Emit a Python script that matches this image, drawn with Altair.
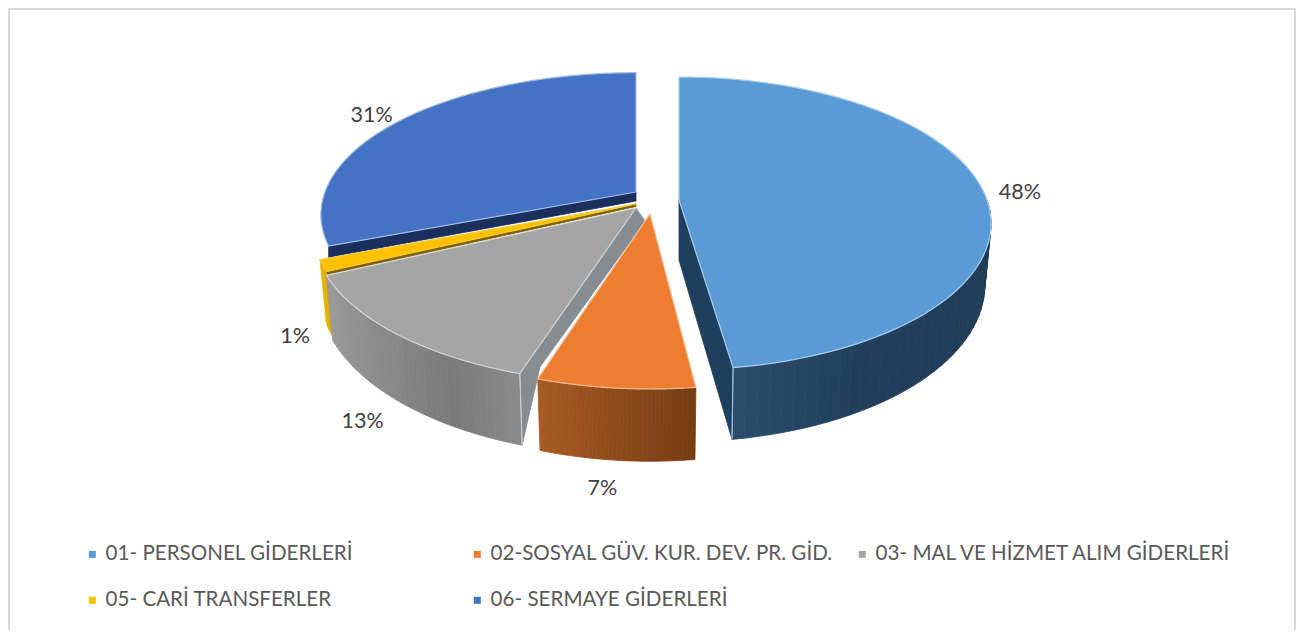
import math
import altair as alt

names = ["01- PERSONEL GİDERLERİ", "02-SOSYAL GÜV. KUR. DEV. PR. GİD.",
         "03- MAL VE HİZMET ALIM GİDERLERİ", "05- CARİ TRANSFERLER", "06- SERMAYE GİDERLERİ"]
values = [48, 7, 13, 1, 31]
colors = ["#5b9bd5", "#ed7d31", "#a5a5a5", "#ffc000", "#4472c4"]
edges = ["#a9cdec", "#f6bd96", "#d4d4d4", "#f0cc40", "#a3bde8"]

# geometry of the tilted, exploded pie
W, H = 1288, 622
A, B, K = 308.0, 142.7, 0.16
DEPTH = 60.0
centres = [(679, 200), (650, 214), (636, 208), (636, 204), (636, 192)]
stretch = [(1.0, 1.0), (1.0, 1.03), (1.035, 1.035), (1.035, 1.035), (1.01, 0.97)]
end_trim = [1.3, 0, 0, -0.8, 0]
label_nudge = [(0, 3), (-9, -5), (-5, -3), (9, 0), (0, 4)]
wall_stops = [
    [(90, "#1f3a55"), (150, "#213f5b"), (172.8, "#2c4d6d")],
    [(172.8, "#743c12"), (198, "#a85a22")],
    [(198, "#8a8a8a"), (210, "#7a7a7a"), (225, "#8a8a8a"), (245, "#9a9a9a")],
    [(244.8, "#d9a800"), (248.4, "#e6b400")],
]
side_colors = ["#1f3f5e", None, "#858c92", "#7f6000", "#1b2f5c"]

ends = [sum(values[:i + 1]) * 3.6 for i in range(len(values))]
starts = [0.0] + ends[:-1]
drawn_ends = [e - t for e, t in zip(ends, end_trim)]


def proj(i, deg, r=1.0, bottom=False):
    t = math.radians(deg)
    X, Y = r * math.sin(t), r * math.cos(t)
    w = 1 + K * Y
    sx, sy = A * X / w * stretch[i][0], -B * Y / w * stretch[i][1]
    if bottom:
        sx, sy = sx * 0.98, sy * 1.07 + DEPTH
    return [centres[i][0] + sx - 8, centres[i][1] + sy - 8]


def lerp_color(stops, deg):
    for (a, ca), (b, cb) in zip(stops, stops[1:]):
        if a <= deg <= b:
            f = (deg - a) / (b - a)
            ch = [round(int(ca[j:j + 2], 16) * (1 - f) + int(cb[j:j + 2], 16) * f) for j in (1, 3, 5)]
            return "#%02x%02x%02x" % tuple(ch)
    return stops[0][1] if deg < stops[0][0] else stops[-1][1]


def feature(ring, fill, stroke, name=""):
    return {"type": "Feature", "geometry": {"type": "Polygon", "coordinates": [ring + [ring[0]]]},
            "properties": {"fill": fill, "stroke": stroke, "name": name}}


def arc(a, b, n=60):
    return [a + (b - a) * j / n for j in range(n + 1)]


def wall_features(i):
    feats = []
    a, b = starts[i], drawn_ends[i]
    c = [centres[i][0] - 8, centres[i][1] - 8]
    if i == 4:  # radial face of the far slice
        p = proj(4, a)
        return [feature([c, p, [p[0], p[1] + 11], [c[0], c[1] + 9]], side_colors[4], side_colors[4])]
    if i == 0:
        a = 90.0
        tp, bt = proj(0, b), proj(0, b, bottom=True)
        feats.append(feature([c, tp, bt, [c[0], c[1] + DEPTH]], side_colors[0], side_colors[0]))
    grid = arc(a, b, 40 if i != 3 else 4)
    for u, v in zip(grid, grid[1:]):
        col = lerp_color(wall_stops[i], (u + v) / 2)
        feats.append(feature([proj(i, u), proj(i, v), proj(i, v, bottom=True), proj(i, u, bottom=True)], col, col))
    if i == 2:
        tp, bt = proj(2, a), proj(2, a, bottom=True)
        inner = [tp[0] + 0.13 * (c[0] - tp[0]) + 5, tp[1] + 0.04 * (c[1] - tp[1])]
        feats.append(feature([c, tp, bt, inner, [c[0] + 9, c[1] + 13]], side_colors[2], side_colors[2]))
    if i == 3:
        tp = proj(3, a)
        feats.append(feature([c, tp, [tp[0] + 1, tp[1] + 3], [c[0], c[1] + 2.5]], side_colors[3], side_colors[3]))
    if i in (0, 2):
        d = b if i == 0 else a
        p, q = proj(i, d), proj(i, d, bottom=True)
        feats.append(feature([p, q], "none", edges[i]))
    return feats


def top_feature(i):
    c = [centres[i][0] - 8, centres[i][1] - 8]
    return feature([c] + [proj(i, d) for d in arc(starts[i], drawn_ends[i], 80)], colors[i], edges[i], names[i])


projection = alt.Projection(type="identity", scale=1, translate=[0, 0]).to_dict()
layers = []

# frame
frame_color = "#d9d9d9"
layers.append(alt.Chart().mark_rule(color=frame_color, strokeWidth=2).encode(x=alt.value(1), y=alt.value(0), y2=alt.value(H)))
layers.append(alt.Chart().mark_rule(color=frame_color, strokeWidth=2).encode(x=alt.value(W - 1), y=alt.value(0), y2=alt.value(H)))
layers.append(alt.Chart().mark_rule(color=frame_color, strokeWidth=2).encode(y=alt.value(1), x=alt.value(0), x2=alt.value(W)))

# painter's order: far slices first
for i in [4, 3, 2, 0, 1]:
    layers.append(
        alt.Chart(alt.Data(values=wall_features(i))).mark_geoshape(strokeWidth=0.8).encode(
            fill=alt.Fill("properties.fill:N", scale=None),
            stroke=alt.Stroke("properties.stroke:N", scale=None),
        ).project(**projection)
    )
    layers.append(
        alt.Chart(alt.Data(values=[top_feature(i)])).mark_geoshape(strokeWidth=1.2).encode(
            color=alt.Color(
                "properties.name:N",
                scale=alt.Scale(domain=names, range=colors),
                sort=names,
                legend=alt.Legend(
                    title=None, orient="none", legendX=74, legendY=536, columns=3, direction="horizontal",
                    gridAlign="all", columnPadding=5, rowPadding=25, symbolType="square", symbolSize=49,
                    symbolStrokeWidth=0, labelFont="Lato", labelFontSize=20.6, labelColor="#595959",
                    labelLimit=400, labelOffset=3, padding=0,
                ),
            ),
            stroke=alt.Stroke("properties.stroke:N", scale=None),
        ).project(**projection)
    )

# percentage labels
label_rows = []
for i, v in enumerate(values):
    mid = (starts[i] + ends[i]) / 2
    lx, ly = proj(i, mid)
    cx, cy = centres[i][0] - 8, centres[i][1] - 8
    lx, ly = cx + (lx - cx) * 1.12, cy + (ly - cy) * 1.12
    Y = math.cos(math.radians(mid))
    if Y < 0:
        ly += DEPTH + 0.07 * (ly - cy) / 1.12 + 24 * -Y - 11
    label_rows.append({"lon": lx + label_nudge[i][0], "lat": ly + label_nudge[i][1], "text": f"{v}%"})

layers.append(
    alt.Chart(alt.Data(values=label_rows)).mark_text(font="Lato", fontSize=21.5, color="#404040").encode(
        longitude="lon:Q", latitude="lat:Q", text="text:N"
    ).project(**projection)
)

chart = alt.layer(*layers).properties(
    width=W, height=H, padding=0, autosize=alt.AutoSizeParams(type="none")
).configure_view(stroke=None)

chart.save("out.html", embed_options={"renderer": "svg", "actions": False})
